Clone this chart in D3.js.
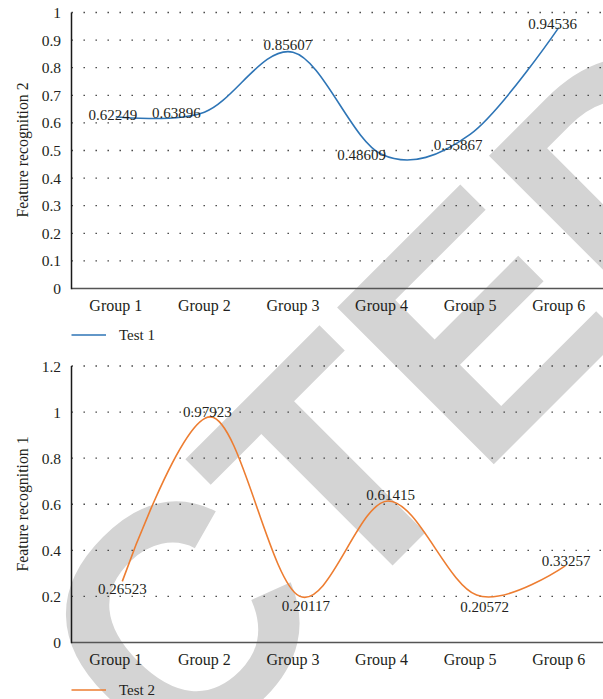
<!DOCTYPE html>
<html>
<head>
<meta charset="utf-8">
<script src="https://cdn.jsdelivr.net/npm/d3@7"></script>
<style>
  html, body { margin: 0; padding: 0; background: #fff; }
  svg { display: block; }
  text { font-family: "Liberation Serif", "DejaVu Serif", serif; fill: #231f20; }
</style>
</head>
<body>
<svg id="chart" width="603" height="699"></svg>
<script>
// Chart data
const categories = ["Group 1", "Group 2", "Group 3", "Group 4", "Group 5", "Group 6"];
const test1 = [0.62249, 0.63896, 0.85607, 0.48609, 0.55867, 0.94536];
const test2 = [0.26523, 0.97923, 0.20117, 0.61415, 0.20572, 0.33257];
const ticks1 = [0, 0.1, 0.2, 0.3, 0.4, 0.5, 0.6, 0.7, 0.8, 0.9, 1];
const tickLabels1 = ["0", "0.1", "0.2", "0.3", "0.4", "0.5", "0.6", "0.7", "0.8", "0.9", "1"];
const ticks2 = [0, 0.2, 0.4, 0.6, 0.8, 1, 1.2];
const tickLabels2 = ["0", "0.2", "0.4", "0.6", "0.8", "1", "1.2"];
const seriesNames = ["Test 1", "Test 2"];
const axisTitles = ["Feature recognition 2", "Feature recognition 1"];

const svg = d3.select("#chart");

// Background stamp, drawn first so everything else sits over it
const stamp = svg.append("g").attr("transform", "rotate(-45)");
const stampText = stamp.append("text")
  .text("RETRACTED")
  .attr("x", 0)
  .attr("y", 677.4)
  .style("font-family", "'Liberation Sans', Arial, sans-serif")
  .style("font-weight", "bold")
  .style("font-size", "322px")
  .style("fill", "#d4d4d4");
{
  // centre the second "T" on its spot along the diagonal
  const ext = stampText.node().getExtentOfChar(6);
  const c = ext.x + ext.width / 2;
  stampText.attr("x", -99 - c);
}

const x = d3.scaleBand().domain(categories).range([71.5, 603]);

function drawPanel(cfg) {
  const g = svg.append("g");
  const y = d3.scaleLinear().domain(cfg.domain).range(cfg.range);
  const x0 = x.range()[0], x1 = x.range()[1];

  // dotted gridlines
  g.selectAll("line.grid").data(cfg.ticks.filter(t => t > 0)).join("line")
    .attr("x1", x0).attr("x2", x1)
    .attr("y1", d => y(d)).attr("y2", d => y(d))
    .attr("stroke", "#3a3a3a").attr("stroke-width", 1.3)
    .attr("stroke-dasharray", "1.4,10.6");

  // y tick labels
  g.selectAll("text.ytick").data(cfg.ticks).join("text")
    .attr("x", 61).attr("y", d => y(d) + 5.5)
    .attr("text-anchor", "end")
    .style("font-size", "15.5px")
    .text((d, i) => cfg.tickLabels[i]);

  // axes
  g.append("line").attr("x1", x0).attr("x2", x1)
    .attr("y1", y(0)).attr("y2", y(0))
    .attr("stroke", "#555").attr("stroke-width", 1.5);
  g.append("line").attr("x1", x0).attr("x2", x0)
    .attr("y1", y(cfg.domain[1])).attr("y2", y(0) + 0.75)
    .attr("stroke", "#1a1a1a").attr("stroke-width", 1.5);

  // x category labels
  g.selectAll("text.xtick").data(categories).join("text")
    .attr("x", d => x(d) + x.bandwidth() / 2)
    .attr("y", cfg.xLabelY)
    .attr("text-anchor", "middle")
    .style("font-size", "16px")
    .text(d => d);

  // y axis title
  g.append("text")
    .attr("transform", `translate(28,${cfg.titleY}) rotate(-90)`)
    .attr("text-anchor", "middle")
    .style("font-size", "15.8px")
    .text(cfg.title);

  // smoothed series line
  const px = (d, i) => x(categories[i]) + x.bandwidth() / 2 + cfg.shift;
  const line = d3.line()
    .x((d, i) => px(d, i))
    .y(d => y(d))
    .curve(d3.curveCardinal.tension(0));
  g.append("path").datum(cfg.values)
    .attr("d", line)
    .attr("fill", "none")
    .attr("stroke", cfg.color)
    .attr("stroke-width", 1.6);

  // value labels
  g.selectAll("text.val").data(cfg.values).join("text")
    .attr("x", (d, i) => px(d, i) + cfg.labelOffsets[i][0])
    .attr("y", (d, i) => y(d) + cfg.labelOffsets[i][1] + 5)
    .attr("text-anchor", "middle")
    .style("font-size", "15px")
    .text(d => String(d));

  // legend
  g.append("line")
    .attr("x1", 71.5).attr("x2", 106)
    .attr("y1", cfg.legendY).attr("y2", cfg.legendY)
    .attr("stroke", cfg.color).attr("stroke-width", 1.6);
  g.append("text")
    .attr("x", 119).attr("y", cfg.legendY + 4.5)
    .style("font-size", "15px")
    .text(cfg.name);
}

drawPanel({
  values: test1, domain: [0, 1], range: [288.5, 12.5],
  ticks: ticks1, tickLabels: tickLabels1,
  title: axisTitles[0], titleY: 150, xLabelY: 310.5,
  legendY: 335, name: seriesNames[0], color: "#2e75b6", shift: 0,
  labelOffsets: [[-3, -2], [-28, 1], [-5, -7], [-20, 1], [-12, 11], [-6, -4]]
});

drawPanel({
  values: test2, domain: [0, 1.2], range: [642.5, 366],
  ticks: ticks2, tickLabels: tickLabels2,
  title: axisTitles[1], titleY: 504, xLabelY: 664.5,
  legendY: 690, name: seriesNames[1], color: "#ed7d31", shift: 6.5,
  labelOffsets: [[0, 7.5], [-3.5, -5], [6.5, 10], [2.5, -6], [8, 12], [1, -5]]
});
</script>
</body>
</html>
